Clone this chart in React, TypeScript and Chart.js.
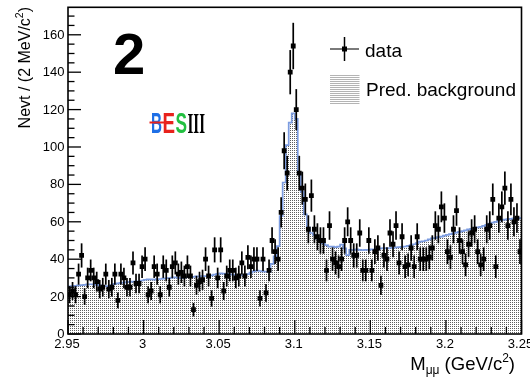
import React, { useEffect, useRef } from 'react';
import { Chart, registerables } from 'chart.js';

Chart.register(...registerables);

// ---------------- data ----------------
const X_MIN = 2.95;
const X_MAX = 3.25;
const BIN_WIDTH = 0.002;
const Y_MAX = 174.7;

// observed events per 2 MeV/c^2 bin (150 bins from 2.95 to 3.25)
const dataCounts = [
  21, 23, 21, 32, 42, 20, 30, 34, 30, 28,
  24, 25, 32, 24, 25, 32, 18, 32, 30, 25,
  25, 38, 27, 27, 36, 40, 21, 23, 36, 32,
  21, 36, 34, 25, 36, 38, 32, 33, 31, 36,
  31, 13, 26, 28, 29, 40, 31, 19, 45, 30,
  45, 23, 31, 34, 34, 30, 31, 38, 31, 41,
  36, 40, 40, 19, 40, 22, 34, 50, 44, 40,
  65, 98, 86, 140, 154, 120, 86, 78, 72, 56,
  74, 56, 52, 50, 50, 34, 58, 40, 38, 36,
  40, 50, 60, 50, 42, 42, 54, 34, 34, 50,
  34, 44, 46, 26, 42, 40, 54, 48, 58, 38,
  52, 36, 37, 46, 36, 52, 40, 40, 40, 41,
  46, 58, 56, 68, 62, 44, 41, 56, 66, 50,
  44, 37, 48, 54, 56, 44, 37, 40, 56, 58,
  72, 36, 62, 68, 78, 58, 72, 60, 62, 44,
];

// predicted background per bin
const predBackground = [
  25.5, 25.6, 25.8, 26.0, 26.1, 26.3, 26.5, 26.6, 26.5, 26.3,
  26.0, 25.8, 25.6, 25.4, 26.2, 26.8, 27.1, 27.3, 27.5, 27.8,
  27.9, 28.0, 28.1, 28.2, 28.6, 29.0, 29.2, 29.2, 29.1, 29.3,
  29.4, 29.6, 29.8, 29.9, 30.1, 30.3, 30.0, 29.8, 30.1, 30.4,
  30.5, 30.6, 30.8, 30.7, 30.9, 31.0, 31.0, 31.3, 31.8, 32.2,
  32.4, 32.3, 32.1, 31.9, 31.7, 31.6, 31.5, 31.5, 31.5, 32.0,
  32.8, 33.5, 33.9, 33.7, 33.5, 33.3, 33.2, 37.5, 41.5, 47.0,
  63.0, 81.0, 101.0, 113.0, 118.0, 115.0, 86.0, 76.0, 64.0, 57.0,
  54.0, 53.0, 51.0, 50.5, 48.5, 47.5, 46.7, 46.7, 46.5, 46.7,
  47.8, 45.8, 42.2, 45.0, 45.0, 45.2, 45.0, 44.8, 45.0, 45.0,
  45.2, 45.0, 45.3, 45.8, 46.0, 45.8, 46.0, 46.1, 46.3, 46.5,
  46.6, 46.8, 47.1, 47.6, 48.0, 48.6, 49.4, 49.6, 50.0, 50.6,
  51.2, 51.3, 51.8, 52.1, 52.6, 53.0, 53.4, 53.8, 54.2, 54.6,
  55.0, 55.4, 55.9, 56.2, 56.5, 57.0, 57.3, 57.8, 58.4, 59.0,
  59.6, 60.0, 60.6, 61.0, 61.2, 61.4, 61.6, 61.8, 62.0, 62.0,
];

const xTickLabels = ['2.95', '3', '3.05', '3.1', '3.15', '3.2', '3.25'];
const yTickLabels = ['0', '20', '40', '60', '80', '100', '120', '140', '160'];

const FONT = '"Liberation Sans", Arial, Helvetica, sans-serif';

type Seg = { t: string; size: number; dy: number };

function drawRich(ctx: CanvasRenderingContext2D, segs: Seg[], x: number, y: number, align: 'left' | 'right') {
  const widths = segs.map((s) => {
    ctx.font = `${s.size}px ${FONT}`;
    return ctx.measureText(s.t).width;
  });
  const total = widths.reduce((a, b) => a + b, 0);
  let cx = align === 'right' ? x - total : x;
  ctx.textAlign = 'left';
  ctx.textBaseline = 'alphabetic';
  segs.forEach((s, i) => {
    ctx.font = `${s.size}px ${FONT}`;
    ctx.fillText(s.t, cx, y + s.dy);
    cx += widths[i];
  });
}

function drawFitLetter(ctx: CanvasRenderingContext2D, t: string, x: number, base: number, w: number, color: string, font: string) {
  ctx.save();
  ctx.font = font;
  const m = ctx.measureText(t);
  const sx = w / m.width;
  ctx.translate(x, base);
  ctx.scale(sx, 1);
  ctx.fillStyle = color;
  ctx.textAlign = 'left';
  ctx.textBaseline = 'alphabetic';
  ctx.fillText(t, 0, 0);
  ctx.restore();
}

const rootPlugin = {
  id: 'rootStyle',
  afterDatasetsDraw(chart: any) {
    const ctx: CanvasRenderingContext2D = chart.ctx;
    const xs = chart.scales.x;
    const ys = chart.scales.y;
    ctx.save();
    ctx.strokeStyle = '#000';
    ctx.lineWidth = 1.7;
    dataCounts.forEach((n, i) => {
      const x = xs.getPixelForValue(X_MIN + BIN_WIDTH * (i + 0.5));
      const e = Math.sqrt(n);
      ctx.beginPath();
      ctx.moveTo(x, ys.getPixelForValue(n - e));
      ctx.lineTo(x, ys.getPixelForValue(n + e));
      ctx.stroke();
    });
    ctx.restore();
  },
  afterDraw(chart: any) {
    const ctx: CanvasRenderingContext2D = chart.ctx;
    const { left, right, top, bottom } = chart.chartArea;
    const xs = chart.scales.x;
    const ys = chart.scales.y;
    ctx.save();

    // frame
    ctx.strokeStyle = '#000';
    ctx.lineWidth = 1.6;
    ctx.strokeRect(left, top, right - left, bottom - top);

    // y ticks
    ctx.lineWidth = 1.3;
    for (let k = 0; k * 5 <= Y_MAX; k++) {
      const v = k * 5;
      const y = ys.getPixelForValue(v);
      const major = k % 4 === 0;
      ctx.beginPath();
      ctx.moveTo(left, y);
      ctx.lineTo(left + (major ? 13 : 6.5), y);
      ctx.stroke();
    }
    // x ticks
    for (let k = 0; k <= 30; k++) {
      const x = xs.getPixelForValue(X_MIN + k * 0.01);
      const major = k % 5 === 0;
      ctx.beginPath();
      ctx.moveTo(x, bottom);
      ctx.lineTo(x, bottom - (major ? 14 : 7));
      ctx.stroke();
    }

    // tick labels
    ctx.fillStyle = '#000';
    ctx.font = `13px ${FONT}`;
    ctx.textAlign = 'right';
    ctx.textBaseline = 'middle';
    yTickLabels.forEach((l) => {
      ctx.fillText(l, left - 3.5, ys.getPixelForValue(parseFloat(l)) + 0.5);
    });
    ctx.textAlign = 'center';
    ctx.textBaseline = 'alphabetic';
    xTickLabels.forEach((l) => {
      ctx.fillText(l, xs.getPixelForValue(parseFloat(l)) - 1, bottom + 13.5);
    });

    // x title
    drawRich(
      ctx,
      [
        { t: 'M', size: 18.5, dy: 0 },
        { t: 'μμ', size: 12, dy: 4 },
        { t: ' (GeV/c', size: 18.5, dy: 0 },
        { t: '2', size: 12, dy: -8 },
        { t: ')', size: 18.5, dy: 0 },
      ],
      515,
      370,
      'right'
    );

    // y title
    ctx.save();
    ctx.translate(30, 7);
    ctx.rotate(-Math.PI / 2);
    drawRich(
      ctx,
      [
        { t: 'Nevt / (2 MeV/c', size: 16, dy: 0 },
        { t: '2', size: 10.5, dy: -7 },
        { t: ')', size: 16, dy: 0 },
      ],
      0,
      0,
      'right'
    );
    ctx.restore();

    // big "2"
    ctx.font = `bold 58px ${FONT}`;
    ctx.textAlign = 'left';
    ctx.fillStyle = '#000';
    ctx.fillText('2', 113, 73.5);

    // BESIII logo
    const lf = `bold 30px ${FONT}`;
    drawFitLetter(ctx, 'B', 151, 133, 11, '#1e6fe6', lf);
    drawFitLetter(ctx, 'E', 162.5, 133, 12.5, '#e8221c', lf);
    drawFitLetter(ctx, 'S', 175.5, 133, 11.5, '#22c040', lf);
    drawFitLetter(ctx, 'III', 187.5, 133, 17.5, '#000', `bold 30px "Liberation Serif", "DejaVu Serif", serif`);
    ctx.strokeStyle = '#e8221c';
    ctx.lineWidth = 2;
    ctx.beginPath();
    ctx.moveTo(149.5, 122.5);
    ctx.lineTo(166, 122.5);
    ctx.stroke();

    // legend: data
    ctx.strokeStyle = '#7a7a7a';
    ctx.lineWidth = 2;
    ctx.beginPath();
    ctx.moveTo(330, 49);
    ctx.lineTo(359, 49);
    ctx.stroke();
    ctx.strokeStyle = '#000';
    ctx.lineWidth = 1.5;
    ctx.beginPath();
    ctx.moveTo(344.5, 37);
    ctx.lineTo(344.5, 61);
    ctx.stroke();
    ctx.fillStyle = '#000';
    ctx.fillRect(342, 46.5, 5, 5);

    // legend: background box
    ctx.strokeStyle = '#b4b4b4';
    ctx.lineWidth = 1;
    for (let y = 75.5; y <= 104; y += 2) {
      ctx.beginPath();
      ctx.moveTo(330, y);
      ctx.lineTo(359.5, y);
      ctx.stroke();
    }

    ctx.fillStyle = '#000';
    ctx.font = `19px ${FONT}`;
    ctx.textAlign = 'left';
    ctx.textBaseline = 'alphabetic';
    ctx.fillText('data', 365, 56.5);
    ctx.fillText('Pred. background', 366, 96);

    ctx.restore();
  },
};

export default function App() {
  const canvasRef = useRef<HTMLCanvasElement | null>(null);

  useEffect(() => {
    const canvas = canvasRef.current;
    if (!canvas) return;
    const ctx = canvas.getContext('2d')!;

    const pc = document.createElement('canvas');
    pc.width = 2;
    pc.height = 2;
    const p = pc.getContext('2d')!;
    p.fillStyle = 'rgba(40,40,40,0.75)';
    p.fillRect(0, 0, 1, 1);
    const pattern = ctx.createPattern(pc, 'repeat');

    const points = dataCounts.map((n, i) => ({ x: X_MIN + BIN_WIDTH * (i + 0.5), y: n }));
    const steps = predBackground.map((v, i) => ({ x: X_MIN + BIN_WIDTH * i, y: v }));
    steps.push({ x: X_MAX, y: predBackground[predBackground.length - 1] });

    const chart = new Chart(canvas, {
      type: 'scatter',
      data: {
        datasets: [
          {
            type: 'scatter',
            label: 'data',
            data: points,
            pointStyle: 'rect',
            pointRadius: 3.4,
            pointBackgroundColor: '#000',
            pointBorderWidth: 0,
            showLine: false,
            order: 0,
          } as any,
          {
            type: 'line',
            label: 'Pred. background',
            data: steps,
            stepped: true,
            fill: 'origin',
            backgroundColor: pattern as any,
            borderColor: '#7c9ce0',
            borderWidth: 1.7,
            pointRadius: 0,
            tension: 0,
            order: 1,
          } as any,
        ],
      },
      options: {
        animation: false,
        responsive: false,
        devicePixelRatio: 1,
        events: [],
        layout: { padding: { left: 68, right: 8.5, top: 7.3, bottom: 44 } },
        scales: {
          x: { type: 'linear', min: X_MIN, max: X_MAX, display: false },
          y: { type: 'linear', min: 0, max: Y_MAX, display: false },
        },
        plugins: {
          legend: { display: false },
          tooltip: { enabled: false },
        },
      },
      plugins: [rootPlugin],
    });

    return () => chart.destroy();
  }, []);

  return (
    <div style={{ position: 'fixed', left: 0, top: 0, width: 530, height: 378, background: '#fff' }}>
      <canvas ref={canvasRef} width={530} height={378} style={{ display: 'block', width: 530, height: 378 }} />
    </div>
  );
}
